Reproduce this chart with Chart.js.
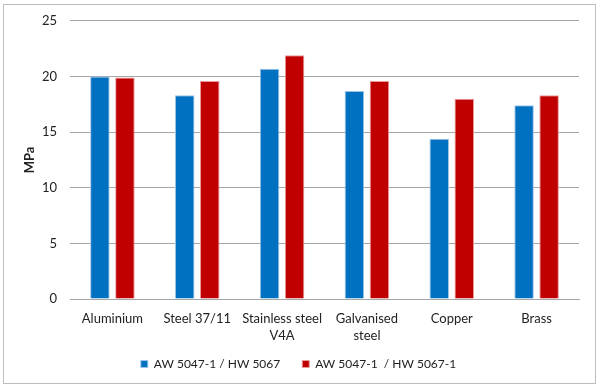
<!DOCTYPE html>
<html>
<head>
<meta charset="utf-8">
<script src="https://cdn.jsdelivr.net/npm/chart.js@4/dist/chart.umd.min.js"></script>
<style>
  html, body { margin: 0; padding: 0; background: #fff; }
  #wrap { width: 607px; height: 391px; position: relative; }
</style>
</head>
<body>
<div id="wrap"><canvas id="chart"></canvas></div>
<script>
// ==== data ====
const categories = ["Aluminium", "Steel 37/11", ["Stainless steel", "V4A"], ["Galvanised", "steel"], "Copper", "Brass"];
const seriesNames = ["AW 5047-1 / HW 5067", "AW 5047-1  / HW 5067-1"];
const blueValues = [20.0, 18.3, 20.7, 18.7, 14.4, 17.4];
const redValues = [19.9, 19.6, 21.9, 19.6, 18.0, 18.3];
const yTicks = [0, 5, 10, 15, 20, 25];

const FONT = "Lato, 'Liberation Sans', sans-serif";

// two-line category labels reach into the legend's padding, so don't clip them
Chart.CategoryScale.prototype._computeLabelArea = function () {};

// outer frame like the office chart border
const framePlugin = {
  id: "frame",
  beforeDraw(chart) {
    const c = chart.ctx;
    c.save();
    c.fillStyle = "#fff";
    c.fillRect(0, 0, chart.width, chart.height);
    c.strokeStyle = "#bdbdbd";
    c.lineWidth = 1;
    c.strokeRect(3.5, 4.5, 592, 379);
    c.restore();
  }
};

new Chart(document.getElementById("chart"), {
  type: "bar",
  data: {
    labels: categories,
    datasets: [
      {
        label: seriesNames[0],
        data: blueValues,
        backgroundColor: "#0070c0",
        borderColor: "#9cc3e6",
        borderWidth: 1,
        categoryPercentage: 0.59,
        barPercentage: 0.78
      },
      {
        label: seriesNames[1],
        data: redValues,
        backgroundColor: "#c00000",
        borderColor: "#e99a9a",
        borderWidth: 1,
        categoryPercentage: 0.59,
        barPercentage: 0.78
      }
    ]
  },
  options: {
    responsive: true,
    maintainAspectRatio: false,
    animation: false,
    layout: { padding: { left: 18, right: 28, top: 12, bottom: 11 } },
    plugins: {
      legend: {
        position: "bottom",
        labels: {
          color: "#222",
          font: { family: FONT, size: 12 },
          boxWidth: 7,
          boxHeight: 7,
          padding: 22
        }
      },
      tooltip: { enabled: false }
    },
    scales: {
      x: {
        grid: { display: false, drawTicks: false },
        border: { color: "#a6a6a6", width: 1 },
        afterFit(axis) {
          axis.height = 37;
        },
        ticks: {
          color: "#222",
          font: { family: FONT, size: 13, lineHeight: 1.3 },
          padding: 11,
          maxRotation: 0,
          autoSkip: false
        }
      },
      y: {
        min: 0,
        max: 25,
        afterBuildTicks(axis) {
          axis.ticks = yTicks.map(v => ({ value: v }));
        },
        afterFit(axis) {
          axis.width = 52;
        },
        title: {
          display: true,
          text: "MPa",
          color: "#222",
          font: { family: FONT, size: 13, weight: "bold" },
          padding: { top: 4, bottom: 0 }
        },
        grid: { color: "#a6a6a6", drawTicks: false },
        border: { display: false },
        ticks: {
          color: "#222",
          font: { family: FONT, size: 13 },
          padding: 13
        }
      }
    }
  },
  plugins: [framePlugin]
});
</script>
</body>
</html>
